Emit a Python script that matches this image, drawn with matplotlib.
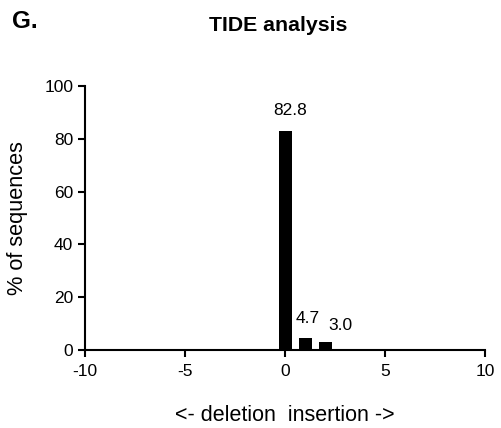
import matplotlib
matplotlib.use("Agg")
import matplotlib.pyplot as plt
import numpy as np

plt.rcParams["font.family"] = ["Liberation Sans", "DejaVu Sans"]
plt.rcParams["axes.unicode_minus"] = False

# indel size (bp) and % of sequences
indel = list(range(-10, 11))
percent = [0.0] * 10 + [82.8, 4.7, 3.0] + [0.0] * 8
shown = ["82.8", "4.7", "3.0"]
shown_at = [0, 1, 2]

# label nudges in pixels (x, y), as placed in the original figure
nudge = [(5, 13), (3, 12), (15, 9)]

fig = plt.figure(figsize=(5.01, 4.28), dpi=100)
ax = fig.add_axes([0.1697, 0.182, 0.7984, 0.617])

ax.bar(indel, percent, width=0.65, color="black", zorder=3)
for i, x in enumerate(shown_at):
    y = percent[indel.index(x)]
    ax.annotate(shown[i], (x, y), xytext=(nudge[i][0] * 0.72, nudge[i][1] * 0.72),
                textcoords="offset points", ha="center", va="bottom", fontsize=12.5)

ax.set_xlim(-10, 10)
ax.set_ylim(0, 100)
ax.set_xticks([-10, -5, 0, 5, 10])
ax.set_yticks([0, 20, 40, 60, 80, 100])
ax.spines["top"].set_visible(False)
ax.spines["right"].set_visible(False)
for s in ("left", "bottom"):
    ax.spines[s].set_linewidth(1.5)
ax.tick_params(width=1.5, length=5, labelsize=12.5, direction="out")
ax.tick_params(axis="x", pad=5)

ax.set_xlabel("<- deletion  insertion ->", fontsize=15.5, labelpad=19)
ax.set_ylabel("% of sequences", fontsize=15.7, labelpad=12)

fig.text(0.555, 0.94, "TIDE analysis", ha="center", va="center",
         fontsize=15.3, fontweight="bold")
fig.text(0.023, 0.95, "G.", ha="left", va="center",
         fontsize=17.5, fontweight="bold")

fig.savefig("out.png", dpi=100)
